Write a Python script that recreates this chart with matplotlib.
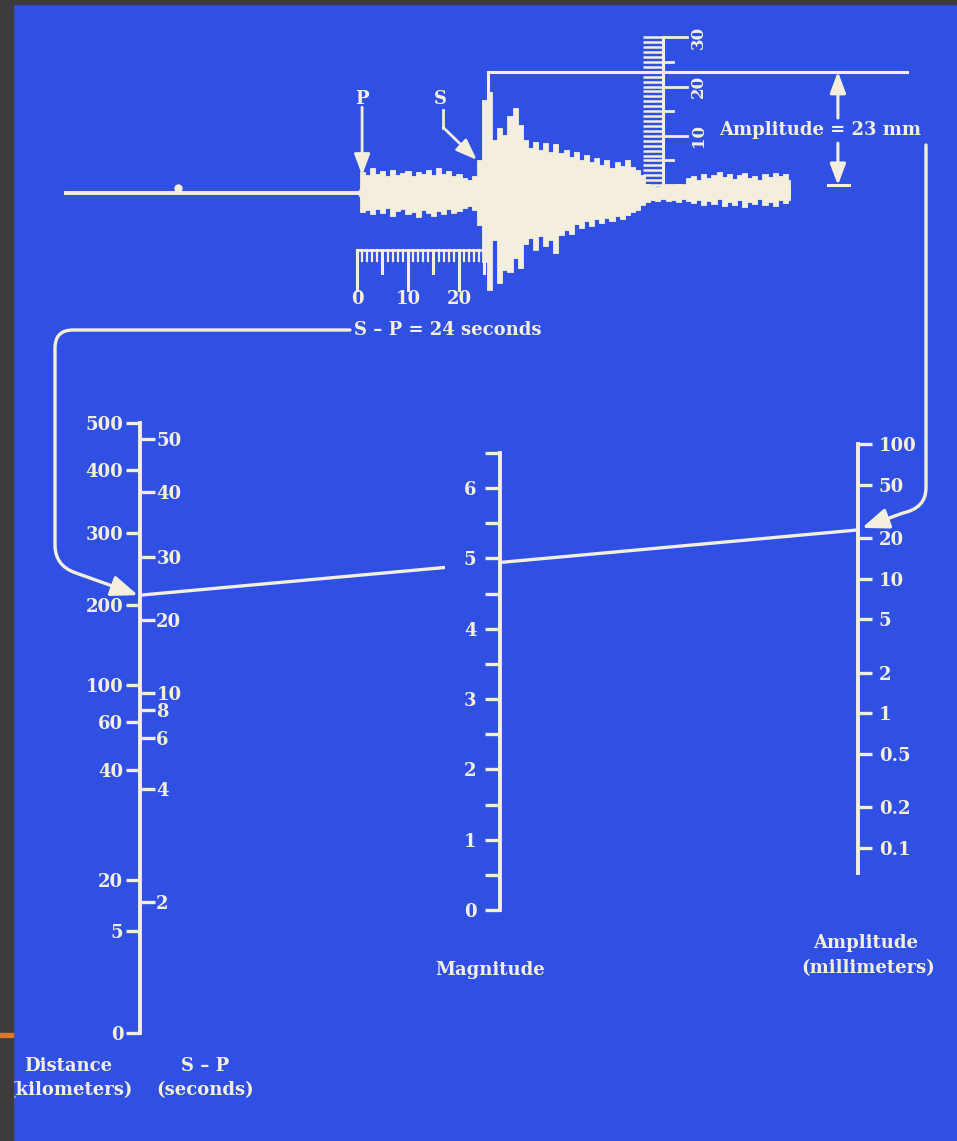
import matplotlib
matplotlib.use("Agg")
import matplotlib.pyplot as plt
import numpy as np
from matplotlib.patches import FancyArrowPatch, Rectangle
from matplotlib.path import Path
from matplotlib.ticker import NullLocator

W, H = 957, 1141
BLUE = "#2f50e2"
CREAM = "#f4efdc"
FRAME = "#3b3b3e"

# nomogram scales (positions in magnitude-equivalent units from the bottom of the left scale)
dist_km = [0, 5, 20, 40, 60, 100, 200, 300, 400, 500]
dist_pos = [0, 1.45, 2.18, 3.74, 4.42, 4.95, 6.09, 7.11, 8.01, 8.68]
sp_sec = [2, 4, 6, 8, 10, 20, 30, 40, 50]
sp_pos = [1.86, 3.47, 4.20, 4.59, 4.84, 5.87, 6.77, 7.70, 8.45]
mag_major = [0, 1, 2, 3, 4, 5, 6]
mag_minor = [0.5, 1.5, 2.5, 3.5, 4.5, 5.5, 6.5]
amp_mm = [0.1, 0.2, 0.5, 1, 2, 5, 10, 20, 50, 100]
amp_labels = ["0.1", "0.2", "0.5", "1", "2", "5", "10", "20", "50", "100"]

# readings
sp_reading = 24
amp_reading = 23

# seismogram trace (seconds after P, mm)
trace_t = [-57] + list(range(0, 86))
trace_up = [0, 0, 4.3, 3.7, 5.1, 3.9, 4.5, 3.4, 4.7, 3.7, 4.1, 4.5, 3.4, 4.3, 3.9, 4.7,
            3.7, 5.1, 3.9, 4.5, 3.4, 3.9, 3.0, 2.6, 3.4, 6.7,
            18.9, 20.5, 10.8, 13.2, 11.8, 15.6, 17.2, 13.8, 10.8, 9.1, 10.3, 8.7, 10.1,
            8.3, 9.9, 8.1, 8.7, 7.3, 8.3, 6.7, 7.7, 6.3, 7.1, 5.7, 6.7, 5.1, 6.3, 5.5,
            6.7, 5.3, 4.7, 3.7,
            1.8, 1.4, 1.2, 1.4, 1.6, 1.4, 1.8, 1.6, 3.0, 3.4, 2.6, 3.9, 3.0, 3.7, 4.3,
            3.2, 3.9, 2.8, 3.7, 4.1, 3.0, 3.4, 2.6, 3.9, 3.2, 4.1, 3.4, 3.9, 2.6]
trace_lo = [0, 0, -3.9, -3.4, -4.3, -3.2, -4.1, -3.0, -4.7, -3.7, -3.2, -4.3, -3.9, -4.9,
            -3.4, -4.1, -4.7, -3.7, -4.3, -3.2, -4.1, -3.7, -3.0, -2.6, -3.4, -6.5,
            -14.0, -19.7, -9.5, -18.3, -15.6, -16.0, -13.2, -15.2, -10.3, -9.1, -11.6,
            -8.7, -10.8, -9.5, -12.2, -8.5, -7.5, -8.3, -6.3, -7.1, -5.7, -6.7, -5.3,
            -6.1, -5.1, -5.7, -4.7, -5.3, -4.5, -3.9, -3.4, -2.4,
            -1.8, -1.4, -1.6, -1.2, -1.6, -1.4, -1.8, -1.2, -1.6, -2.0, -1.4, -2.4, -1.6,
            -2.2, -1.2, -2.6, -1.8, -2.4, -1.4, -2.8, -1.8, -2.2, -1.2, -2.4, -1.8, -2.6,
            -1.4, -2.0, -1.4]
timing_mark = (-35.1, 1.0)

plt.rcParams["font.family"] = ["DejaVu Serif"]
plt.rcParams["font.weight"] = "bold"

fig = plt.figure(figsize=(W / 100, H / 100), dpi=100)
fig.patch.set_facecolor(BLUE)


def rect(x, y, w, h):
    # pixel box (top-left origin) -> figure fraction
    return [x / W, 1 - (y + h) / H, w / W, h / H]


# background overlay in pixel units
ov = fig.add_axes([0, 0, 1, 1], zorder=0)
ov.set_xlim(0, W)
ov.set_ylim(H, 0)
ov.set_facecolor(BLUE)
ov.axis("off")

TS = 13
lw_axis = 2.8

# ---- left scale: distance / S-P
axL = fig.add_axes(rect(140, 423, 1, 610), zorder=2)
axL.set_ylim(0, dist_pos[-1])
axL.set_xlim(0, 1)
axL.patch.set_alpha(0)
for s in ["top", "right", "bottom"]:
    axL.spines[s].set_visible(False)
axL.spines["left"].set_color(CREAM)
axL.spines["left"].set_linewidth(lw_axis)
axL.set_xticks([])
axL.set_yticks(dist_pos, labels=[str(d) for d in dist_km])
axL.tick_params(axis="y", length=10, width=2.4, color=CREAM, labelcolor=CREAM,
                labelsize=TS, pad=2)
axS = axL.twinx()
axS.set_ylim(0, dist_pos[-1])
for s in axS.spines.values():
    s.set_visible(False)
axS.set_yticks(sp_pos, labels=[str(s) for s in sp_sec])
axS.tick_params(axis="y", length=10, width=2.4, color=CREAM, labelcolor=CREAM,
                labelsize=TS, pad=1)

# ---- magnitude scale
axM = fig.add_axes(rect(500, 453, 1, 457), zorder=2)
axM.set_ylim(0, 6.5)
axM.set_xlim(0, 1)
axM.patch.set_alpha(0)
for s in ["top", "right", "bottom"]:
    axM.spines[s].set_visible(False)
axM.spines["left"].set_color(CREAM)
axM.spines["left"].set_linewidth(lw_axis)
axM.set_xticks([])
axM.set_yticks(mag_major, labels=[str(m) for m in mag_major])
axM.set_yticks(mag_minor, minor=True)
axM.tick_params(axis="y", which="both", length=11, width=2.4, color=CREAM,
                labelcolor=CREAM, labelsize=TS, pad=6)

# ---- amplitude scale
axA = fig.add_axes(rect(857, 444, 1, 429), zorder=2)
axA.set_yscale("log")
axA.set_ylim(0.065, 100)
axA.set_xlim(0, 1)
axA.patch.set_alpha(0)
for s in ["top", "left", "bottom"]:
    axA.spines[s].set_visible(False)
axA.spines["right"].set_color(CREAM)
axA.spines["right"].set_linewidth(lw_axis)
axA.set_xticks([])
axA.yaxis.tick_right()
axA.set_yticks(amp_mm, labels=amp_labels)
axA.yaxis.set_minor_locator(NullLocator())
axA.tick_params(axis="y", length=10, width=2.4, color=CREAM, labelcolor=CREAM,
                labelsize=TS, pad=5)

# scale titles
ov.text(68, 1066, "Distance", color=CREAM, fontsize=TS, ha="center", va="center")
ov.text(70, 1090, "(kilometers)", color=CREAM, fontsize=TS, ha="center", va="center")
ov.text(205, 1066, "S – P", color=CREAM, fontsize=TS, ha="center", va="center")
ov.text(205, 1090, "(seconds)", color=CREAM, fontsize=TS, ha="center", va="center")
ov.text(490, 970, "Magnitude", color=CREAM, fontsize=TS, ha="center", va="center")
ov.text(866, 943, "Amplitude", color=CREAM, fontsize=TS, ha="center", va="center")
ov.text(868, 968, "(millimeters)", color=CREAM, fontsize=TS, ha="center", va="center")


# ---- nomogram reading line
def to_ov(ax, pt):
    return ov.transData.inverted().transform(ax.transData.transform(pt))


fig.canvas.draw()
pD = to_ov(axL, (0, np.interp(sp_reading, sp_sec, sp_pos)))
pA = to_ov(axA, (1, amp_reading))
xM = to_ov(axM, (0, 0))[0]
frac = (xM - pD[0]) / (pA[0] - pD[0])
pM = pD + frac * (pA - pD)
pGap = pD + (xM - 55 - pD[0]) / (pA[0] - pD[0]) * (pA - pD)
ov.plot([pD[0], pGap[0]], [pD[1], pGap[1]], color=CREAM, lw=2.4, solid_capstyle="butt")
ov.plot([pM[0], pA[0]], [pM[1], pA[1]], color=CREAM, lw=2.4, solid_capstyle="butt")

# connector from S-P reading to distance scale
pathL = Path([(350, 330), (73, 330), (55, 330), (55, 348), (55, 545), (55, 566),
              (76, 573), (pD[0] - 2, pD[1])],
             [Path.MOVETO, Path.LINETO, Path.CURVE3, Path.CURVE3, Path.LINETO,
              Path.CURVE3, Path.CURVE3, Path.LINETO])
ov.add_patch(FancyArrowPatch(path=pathL, arrowstyle="-|>,head_length=0.9,head_width=0.35",
                             mutation_scale=18, color=CREAM, lw=2.4))
# connector from amplitude reading to amplitude scale
pathR = Path([(926, 145), (926, 488), (926, 508), (903, 513), (pA[0] + 4, pA[1] - 2)],
             [Path.MOVETO, Path.LINETO, Path.CURVE3, Path.CURVE3, Path.LINETO])
ov.add_patch(FancyArrowPatch(path=pathR, arrowstyle="-|>,head_length=0.9,head_width=0.35",
                             mutation_scale=18, color=CREAM, lw=2.4))

# ---- seismogram (seconds, mm): 5.1 px per s, 4.93 px per mm, baseline at y=193 px
sx = fig.add_axes(rect(0, 0, W, 345), zorder=1)
sx.set_xlim(-357 / 5.1, (W - 357) / 5.1)
sx.set_ylim((193 - 345) / 4.93, 193 / 4.93)
sx.patch.set_alpha(0)
sx.axis("off")
sx.fill_between(trace_t[1:], trace_lo[1:], trace_up[1:], step="mid", color=CREAM, lw=0.6)
sx.fill_between(trace_t[1:], np.array(trace_lo[1:]) * 0.45, np.array(trace_up[1:]) * 0.45,
                color=CREAM, lw=0)
sx.plot(trace_t[:2], [0, 0], color=CREAM, lw=2.8)
sx.plot(*timing_mark, "o", color=CREAM, ms=5)

# time ruler
rul_top, rul_long, rul_mid, rul_short = -11.6, -19.7, -16.2, -13.8
sec = np.arange(0, 26)
sx.plot([0, 25], [rul_top, rul_top], color=CREAM, lw=2)
for s in sec:
    bottom = rul_long if s % 10 == 0 else (rul_mid if s % 5 == 0 else rul_short)
    sx.plot([s, s], [rul_top, bottom], color=CREAM, lw=1.6 if s % 5 else 2.2)
for s in [0, 10, 20]:
    sx.text(s, -21.4, str(s), color=CREAM, fontsize=TS, ha="center", va="center")
sx.text(-0.6, -27.8, f"S – P = {sp_reading} seconds", color=CREAM, fontsize=TS,
        ha="left", va="center")

# amplitude ruler (0 at 1.6 mm above baseline)
r0 = 1.6
mm = np.arange(0, 31)
for m in mm:
    sx.plot([56.1, 60], [r0 + m, r0 + m], color=CREAM, lw=1.8, solid_capstyle="butt")
sx.plot([60, 60], [r0, r0 + 30], color=CREAM, lw=2.2)
for m in [0, 5, 10, 15, 20, 25, 30]:
    sx.plot([60, 64.7 if m % 10 == 0 else 62], [r0 + m, r0 + m], color=CREAM, lw=2)
for m in [10, 20, 30]:
    sx.text(66.9, r0 + m, str(m), color=CREAM, fontsize=TS - 1, rotation=90,
            ha="center", va="center")

# amplitude reading
i_pk = int(np.argmax(trace_up))
sx.plot([trace_t[i_pk] - 0.3, trace_t[i_pk] - 0.3], [trace_up[i_pk] - 2, r0 + amp_reading],
        color=CREAM, lw=2.2)
sx.plot([trace_t[i_pk] - 0.3, 107.8], [r0 + amp_reading, r0 + amp_reading],
        color=CREAM, lw=2.2)
sx.annotate("", xy=(94.3, r0 + amp_reading), xytext=(94.3, 15.2),
            arrowprops=dict(arrowstyle="-|>,head_length=0.8,head_width=0.3",
                            color=CREAM, lw=2.2, mutation_scale=16, shrinkA=0, shrinkB=0))
sx.annotate("", xy=(94.3, r0), xytext=(94.3, 10.1),
            arrowprops=dict(arrowstyle="-|>,head_length=0.8,head_width=0.3",
                            color=CREAM, lw=2.2, mutation_scale=16, shrinkA=0, shrinkB=0))
sx.plot([92.4, 96.4], [r0, r0], color=CREAM, lw=2.2)
sx.text(90.8, 12.8, f"Amplitude = {amp_reading} mm", color=CREAM, fontsize=TS,
        ha="center", va="center")

# P and S arrival arrows
sx.text(1.0, 19.1, "P", color=CREAM, fontsize=TS, ha="center", va="center")
sx.annotate("", xy=(1.0, 3.6), xytext=(1.0, 17.4),
            arrowprops=dict(arrowstyle="-|>,head_length=0.8,head_width=0.3",
                            color=CREAM, lw=2, mutation_scale=16, shrinkA=0, shrinkB=0))
sx.text(16.3, 19.1, "S", color=CREAM, fontsize=TS, ha="center", va="center")
sx.plot([16.9, 16.9], [16.8, 13.2], color=CREAM, lw=2)
sx.annotate("", xy=(23.5, 6.7), xytext=(16.9, 13.3),
            arrowprops=dict(arrowstyle="-|>,head_length=0.8,head_width=0.3",
                            color=CREAM, lw=2, mutation_scale=16, shrinkA=0, shrinkB=0))

# photo frame edges
fig.add_artist(Rectangle((0, 0), 13 / W, 1, transform=fig.transFigure,
                         color=FRAME, zorder=10))
fig.add_artist(Rectangle((0, 1 - 4 / H), 1, 4 / H, transform=fig.transFigure,
                         color=FRAME, zorder=10))
fig.add_artist(Rectangle((0, 1 - 1037 / H), 13 / W, 4 / H, transform=fig.transFigure,
                         color="#d9772b", zorder=11))

fig.savefig("out.png", dpi=100, facecolor=BLUE)
